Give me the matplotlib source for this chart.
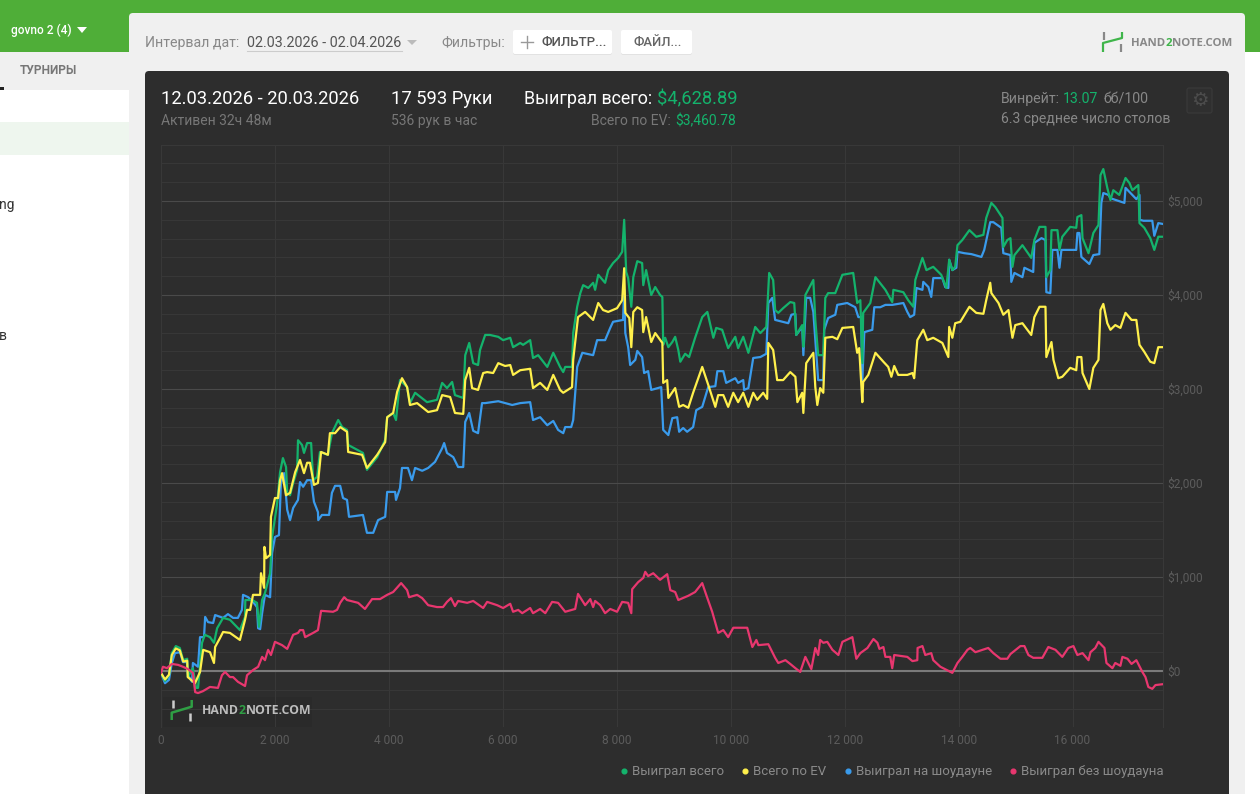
from matplotlib import pyplot as plt
from matplotlib.lines import Line2D
from matplotlib.patches import FancyBboxPatch, Rectangle
from matplotlib.ticker import FuncFormatter, MultipleLocator

# series: hands played and dollars won
total_hands = [0, 70, 140, 190, 260, 330, 390, 460, 470, 560, 615, 650, 720, 770, 860, 930, 985, 1090, 1210, 1385, 1475, 1480, 1600, 1685, 1720, 1775, 1825, 1915, 1950, 2035, 2090, 2140, 2195, 2215, 2265, 2320, 2390, 2405, 2475, 2510, 2565, 2635, 2670, 2740, 2790, 2930, 3000, 3110, 3180, 3265, 3285, 3545, 3615, 3795, 3935, 3970, 4075, 4125, 4195, 4320, 4370, 4460, 4670, 4845, 4935, 5020, 5110, 5160, 5305, 5340, 5410, 5480, 5565, 5600, 5690, 5775, 5920, 6005, 6130, 6180, 6305, 6355, 6480, 6530, 6620, 6780, 6885, 7005, 7060, 7095, 7215, 7235, 7305, 7360, 7410, 7500, 7585, 7620, 7675, 7795, 7850, 7935, 8025, 8095, 8130, 8165, 8200, 8255, 8290, 8360, 8445, 8465, 8515, 8605, 8675, 8760, 8800, 8815, 8850, 8905, 8975, 9025, 9080, 9115, 9200, 9270, 9375, 9500, 9590, 9695, 9745, 9850, 9955, 10080, 10130, 10220, 10310, 10430, 10520, 10625, 10675, 10745, 10780, 10835, 10920, 11045, 11115, 11150, 11255, 11275, 11310, 11450, 11485, 11535, 11625, 11660, 11710, 11835, 11960, 12150, 12220, 12275, 12310, 12325, 12450, 12540, 12715, 12835, 12855, 13030, 13115, 13205, 13240, 13365, 13435, 13555, 13695, 13785, 13835, 13890, 13940, 13980, 14065, 14190, 14310, 14435, 14485, 14575, 14645, 14770, 14785, 14855, 14910, 14945, 14980, 15120, 15275, 15330, 15420, 15525, 15540, 15610, 15630, 15735, 15770, 15820, 15960, 16065, 16085, 16155, 16175, 16280, 16365, 16455, 16490, 16540, 16610, 16665, 16715, 16820, 16930, 17000, 17050, 17155, 17175, 17260, 17365, 17435, 17505, 17593]
total_vals = [-20, -105, -45, 190, 265, 245, 115, 130, -65, 30, -180, -180, 300, 385, 360, 300, 455, 565, 545, 435, 575, 755, 755, 725, 470, 755, 830, 1040, 1425, 1765, 2115, 2265, 2170, 1895, 1870, 2000, 2140, 2455, 2405, 2320, 2425, 2425, 2030, 2065, 2330, 2300, 2530, 2670, 2595, 2565, 2405, 2320, 2140, 2275, 2460, 2700, 2745, 2670, 3095, 3020, 2850, 2960, 2860, 2885, 3065, 3010, 3075, 2935, 2905, 3360, 3490, 3275, 3255, 3415, 3575, 3575, 3555, 3520, 3545, 3445, 3490, 3470, 3520, 3330, 3360, 3235, 3385, 3235, 3180, 3235, 3235, 3595, 3875, 4020, 4105, 4075, 4130, 4055, 4215, 4130, 4265, 4340, 4395, 4460, 4800, 4245, 4180, 3875, 4190, 4360, 4340, 4105, 4265, 4000, 4085, 4000, 3980, 3470, 3545, 3445, 3500, 3555, 3415, 3290, 3375, 3340, 3545, 3765, 3820, 3545, 3650, 3630, 3435, 3555, 3435, 3555, 3385, 3660, 3595, 3660, 4235, 4160, 3840, 3810, 3860, 3925, 3915, 3575, 3680, 3450, 4000, 4160, 3735, 3360, 3360, 3970, 4020, 4020, 4215, 4235, 3915, 3945, 3275, 3810, 3915, 4190, 4055, 3925, 4055, 4030, 3945, 3875, 4160, 4395, 4265, 4300, 4215, 4075, 4375, 4265, 4300, 4530, 4585, 4690, 4620, 4640, 4820, 4980, 4935, 4820, 4510, 4585, 4605, 4300, 4425, 4530, 4395, 4585, 4725, 4725, 4190, 4265, 4690, 4690, 4480, 4620, 4725, 4715, 4830, 4850, 4605, 4445, 4660, 4745, 5275, 5340, 5140, 5010, 5115, 5065, 5245, 5190, 5115, 5170, 4765, 4715, 4605, 4480, 4620, 4620]

ev_hands = [0, 70, 140, 190, 260, 330, 390, 460, 470, 597, 685, 740, 860, 930, 950, 1035, 1090, 1210, 1385, 1475, 1510, 1565, 1615, 1740, 1755, 1810, 1815, 1845, 1915, 1930, 2000, 2055, 2090, 2125, 2195, 2265, 2355, 2440, 2510, 2565, 2615, 2685, 2755, 2810, 2930, 2965, 3055, 3145, 3265, 3285, 3530, 3615, 3795, 3935, 3970, 4075, 4145, 4230, 4320, 4370, 4495, 4690, 4845, 4935, 5075, 5160, 5305, 5340, 5410, 5460, 5565, 5655, 5725, 5830, 5920, 6040, 6130, 6180, 6305, 6480, 6530, 6655, 6780, 6885, 7005, 7060, 7215, 7235, 7320, 7445, 7585, 7675, 7760, 7850, 8005, 8095, 8130, 8150, 8220, 8255, 8290, 8360, 8445, 8465, 8515, 8605, 8675, 8800, 8815, 8885, 8905, 9025, 9095, 9165, 9255, 9340, 9500, 9605, 9730, 9780, 9870, 9955, 10045, 10130, 10220, 10310, 10395, 10465, 10570, 10640, 10660, 10745, 10815, 10920, 11045, 11135, 11170, 11255, 11275, 11325, 11450, 11485, 11520, 11570, 11625, 11660, 11785, 11870, 11960, 12150, 12220, 12255, 12310, 12325, 12415, 12540, 12680, 12765, 12820, 12870, 12940, 13100, 13190, 13220, 13275, 13380, 13450, 13555, 13715, 13820, 13835, 13890, 13940, 14030, 14190, 14310, 14435, 14485, 14555, 14575, 14700, 14785, 14875, 14945, 14995, 15120, 15275, 15330, 15420, 15525, 15540, 15630, 15665, 15750, 15820, 15960, 16065, 16085, 16155, 16175, 16295, 16365, 16455, 16490, 16540, 16610, 16665, 16750, 16840, 16930, 17035, 17120, 17175, 17260, 17365, 17435, 17505, 17593]
ev_vals = [-20, -90, -40, 170, 240, 220, 100, 110, -65, -130, -10, 225, 200, 85, 255, 350, 415, 405, 330, 545, 650, 650, 810, 810, 1040, 885, 1320, 1200, 1235, 1640, 1840, 1840, 2030, 2105, 1870, 1895, 2115, 2245, 2105, 2215, 2215, 1980, 2000, 2330, 2300, 2530, 2530, 2595, 2545, 2330, 2300, 2160, 2300, 2435, 2700, 2745, 2970, 3115, 3020, 2830, 2850, 2755, 2775, 2935, 2915, 2745, 2735, 3095, 3225, 3010, 2990, 3170, 3180, 3170, 3275, 3245, 3255, 3150, 3200, 3215, 3010, 3065, 2990, 3150, 2990, 2960, 3020, 3310, 3765, 3820, 3735, 3915, 3840, 3820, 3860, 3945, 4285, 3810, 3755, 3445, 3820, 3870, 3840, 3605, 3765, 3500, 3595, 3490, 3065, 3095, 2905, 3010, 2810, 2830, 2800, 2960, 3235, 3045, 2810, 2935, 2935, 2810, 2960, 2860, 2960, 2810, 2960, 2885, 2960, 2895, 3490, 3415, 3095, 3095, 3180, 3130, 2860, 2960, 2745, 3275, 3385, 3020, 2830, 3010, 2960, 3545, 3555, 3530, 3650, 3660, 3385, 3435, 2860, 3075, 3150, 3385, 3290, 3235, 3130, 3245, 3150, 3150, 3170, 3115, 3520, 3630, 3520, 3545, 3490, 3340, 3660, 3545, 3700, 3715, 3875, 3810, 3800, 3945, 4130, 4020, 3915, 3790, 3840, 3545, 3680, 3700, 3575, 3765, 3875, 3875, 3340, 3500, 3310, 3115, 3130, 3225, 3200, 3340, 3340, 3170, 3000, 3225, 3310, 3840, 3905, 3700, 3630, 3680, 3650, 3810, 3735, 3735, 3470, 3395, 3290, 3275, 3445, 3445]

showdown_hands = [0, 70, 140, 190, 245, 335, 385, 455, 475, 545, 560, 650, 685, 755, 775, 825, 915, 950, 1090, 1175, 1265, 1350, 1420, 1440, 1530, 1615, 1685, 1705, 1740, 1775, 1825, 1915, 1950, 2000, 2070, 2105, 2160, 2215, 2265, 2320, 2405, 2440, 2495, 2565, 2635, 2685, 2755, 2760, 2825, 2950, 3000, 3055, 3145, 3195, 3265, 3300, 3545, 3615, 3725, 3810, 3935, 3970, 4110, 4125, 4195, 4230, 4335, 4405, 4460, 4585, 4690, 4810, 4935, 4970, 5020, 5130, 5215, 5305, 5340, 5410, 5480, 5565, 5635, 5690, 5920, 6040, 6165, 6305, 6480, 6530, 6655, 6780, 6885, 6970, 7060, 7095, 7200, 7235, 7305, 7395, 7585, 7655, 7795, 7885, 7935, 8110, 8130, 8150, 8200, 8235, 8325, 8360, 8445, 8480, 8550, 8605, 8780, 8815, 8905, 8975, 9060, 9095, 9165, 9235, 9340, 9395, 9500, 9605, 9730, 9765, 9870, 9920, 10080, 10130, 10220, 10235, 10310, 10395, 10520, 10625, 10660, 10730, 10780, 11010, 11065, 11135, 11150, 11255, 11275, 11325, 11395, 11450, 11485, 11535, 11625, 11640, 11710, 11835, 11870, 12045, 12185, 12240, 12290, 12310, 12345, 12485, 12520, 12625, 12715, 12835, 13030, 13100, 13150, 13220, 13260, 13365, 13380, 13470, 13520, 13555, 13715, 13765, 13820, 13835, 13890, 13960, 13980, 14100, 14225, 14400, 14450, 14555, 14610, 14750, 14785, 14910, 14925, 14980, 15120, 15155, 15310, 15330, 15455, 15525, 15540, 15610, 15645, 15735, 15770, 15805, 16065, 16085, 16120, 16155, 16295, 16365, 16470, 16505, 16540, 16630, 16665, 16910, 16930, 17120, 17175, 17180, 17245, 17400, 17435, 17505, 17593]
showdown_vals = [-20, -130, -95, 85, 190, 200, 95, 95, -45, -115, 85, 45, 360, 360, 575, 520, 510, 595, 565, 605, 565, 565, 650, 810, 785, 735, 680, 455, 445, 615, 810, 785, 1255, 1425, 1445, 2000, 2105, 1715, 1605, 1735, 1820, 2010, 1960, 2030, 2030, 1800, 1690, 1605, 1660, 1660, 1895, 1970, 1970, 1840, 1820, 1640, 1660, 1470, 1470, 1605, 1640, 1905, 1905, 1820, 1945, 2160, 2160, 2030, 2160, 2130, 2160, 2225, 2370, 2425, 2320, 2275, 2170, 2170, 2650, 2745, 2555, 2530, 2850, 2850, 2870, 2850, 2830, 2850, 2860, 2670, 2700, 2615, 2660, 2565, 2530, 2595, 2595, 2670, 3235, 3385, 3360, 3520, 3520, 3650, 3715, 3735, 4055, 3595, 3445, 3255, 3310, 3405, 3340, 3170, 3190, 2990, 3020, 2565, 2510, 2690, 2700, 2545, 2585, 2545, 2595, 2775, 2810, 3020, 3030, 3190, 3190, 3065, 3115, 3065, 3095, 2990, 3010, 3330, 3340, 3375, 3915, 3970, 3735, 3700, 3790, 3800, 3575, 3660, 3360, 3970, 3970, 3820, 3520, 3095, 3095, 3630, 3755, 3790, 3895, 3915, 3870, 3765, 3765, 3095, 3605, 3630, 3870, 3870, 3895, 3895, 3915, 3820, 3765, 3790, 4075, 4055, 4140, 4085, 3980, 4180, 4180, 4085, 4075, 4375, 4265, 4290, 4460, 4445, 4435, 4405, 4480, 4775, 4775, 4715, 4445, 4425, 4140, 4235, 4190, 4290, 4245, 4555, 4605, 4585, 4030, 4020, 4480, 4480, 4290, 4480, 4480, 4660, 4660, 4405, 4330, 4425, 4435, 4980, 5085, 5065, 5030, 4980, 5140, 5020, 5065, 4800, 4790, 4790, 4630, 4765, 4755]

nonshowdown_hands = [0, 35, 105, 190, 300, 385, 475, 560, 600, 650, 735, 860, 1000, 1070, 1125, 1210, 1265, 1350, 1475, 1510, 1615, 1705, 1775, 1825, 1880, 1930, 2000, 2125, 2215, 2320, 2405, 2440, 2495, 2530, 2670, 2755, 2810, 3020, 3090, 3145, 3215, 3265, 3460, 3580, 3705, 3845, 3970, 4075, 4215, 4320, 4355, 4495, 4585, 4690, 4845, 4950, 5020, 5090, 5160, 5215, 5375, 5480, 5655, 5725, 5900, 6005, 6130, 6180, 6270, 6340, 6480, 6530, 6655, 6745, 6865, 6970, 7095, 7270, 7320, 7445, 7535, 7585, 7620, 7710, 7795, 7885, 8005, 8095, 8200, 8255, 8270, 8375, 8465, 8500, 8550, 8640, 8760, 8885, 8940, 9025, 9080, 9255, 9375, 9500, 9570, 9675, 9730, 9780, 9870, 9955, 10045, 10290, 10380, 10450, 10485, 10660, 10780, 10835, 10960, 11045, 11135, 11220, 11310, 11415, 11485, 11535, 11570, 11625, 11695, 11785, 11890, 11960, 12135, 12205, 12275, 12400, 12505, 12575, 12610, 12680, 12715, 12800, 12835, 12870, 13100, 13190, 13275, 13280, 13365, 13415, 13520, 13555, 13680, 13890, 13980, 14065, 14155, 14205, 14295, 14520, 14610, 14735, 14855, 14910, 15085, 15155, 15225, 15310, 15470, 15575, 15700, 15820, 15925, 16015, 16085, 16175, 16280, 16315, 16400, 16455, 16560, 16595, 16700, 16750, 16840, 16875, 16965, 17035, 17120, 17225, 17280, 17330, 17400, 17455, 17593]
nonshowdown_vals = [-20, 45, 30, 75, 65, 45, 20, -20, -225, -235, -215, -170, -180, -45, -10, -65, -65, -115, -160, -45, 10, 45, 150, 115, 225, 170, 310, 275, 235, 385, 405, 435, 435, 360, 405, 435, 640, 630, 650, 725, 785, 755, 725, 660, 765, 765, 810, 840, 935, 860, 785, 810, 775, 700, 680, 680, 735, 775, 690, 745, 725, 745, 670, 735, 700, 670, 715, 630, 650, 615, 670, 615, 660, 615, 735, 725, 630, 660, 820, 700, 765, 680, 745, 700, 615, 660, 630, 735, 725, 615, 870, 945, 990, 1055, 1010, 1040, 970, 1030, 860, 840, 755, 800, 840, 935, 810, 630, 510, 405, 435, 360, 460, 460, 255, 330, 275, 285, 140, 85, 115, 75, 30, -10, 150, 20, 245, 170, 330, 300, 310, 225, 170, 310, 360, 130, 190, 245, 340, 300, 235, 255, 150, 150, 30, 170, 150, 105, 115, 245, 265, 170, 190, 115, 45, -20, 85, 150, 225, 245, 200, 245, 190, 130, 130, 180, 265, 265, 170, 140, 140, 255, 225, 150, 245, 265, 170, 190, 115, 200, 245, 310, 245, 85, 30, 85, 55, 150, 130, 75, 115, -10, -65, -170, -190, -150, -140]

legend_labels = ['Выиграл всего', 'Всего по EV', 'Выиграл на шоудауне', 'Выиграл без шоудауна']
series_colors = ['#14b36c', '#fff04c', '#3a9bec', '#e8376f']

DARK = '#2d2d2d'
PAGE = '#f0f0f0'
GREEN_TOP = '#4fae38'

plt.rcParams['font.family'] = ['Roboto', 'DejaVu Sans']

fig = plt.figure(figsize=(12.6, 7.94), dpi=100, facecolor='white')

# page around the chart, in screen pixels
bg = fig.add_axes([0, 0, 1, 1])
bg.set_xlim(0, 1260)
bg.set_ylim(794, 0)
bg.axis('off')


def logo_text(target, x, y, size, color, accent):
    # three pieces so the 2 can be green, each placed after the one before it
    renderer = fig.canvas.get_renderer()
    for word, c in [('HAND', color), ('2', accent), ('NOTE.COM', color)]:
        t = target.text(x, y, word, color=c, fontsize=size, fontweight='bold', va='center',
                        family='Open Sans', transform=bg.transData, zorder=7)
        x += t.get_window_extent(renderer).width


bg.add_patch(Rectangle((0, 0), 1260, 52, color=GREEN_TOP, lw=0))
bg.add_patch(Rectangle((0, 52), 130, 38, color='#f0f0f0', lw=0))
bg.add_patch(Rectangle((0, 122), 130, 33, color='#eef6ee', lw=0))
bg.add_patch(Rectangle((0, 87), 4, 3, color='#222222', lw=0))
bg.add_patch(FancyBboxPatch((131, 15), 1112, 800, boxstyle='round,pad=2,rounding_size=4', fc=PAGE, ec='none'))
bg.add_patch(FancyBboxPatch((147, 73), 1080, 740, boxstyle='round,pad=2,rounding_size=4', fc=DARK, ec='none'))

bg.text(11, 30, 'govno 2 (4)', color='white', fontsize=8.6, fontweight='medium', va='center')
bg.fill([77, 87, 82], [27, 27, 33], color='white', lw=0)
bg.text(48, 70, 'ТУРНИРЫ', color='#777777', fontsize=8.6, fontweight='bold', va='center', ha='center')
bg.text(-1, 205, 'ng', color='#333333', fontsize=10, va='center')
bg.text(-1, 336, 'в', color='#333333', fontsize=10, va='center')

bg.text(145, 43, 'Интервал дат:', color='#888888', fontsize=10.2, va='center')
bg.text(247, 43, '02.03.2026 - 02.04.2026', color='#555555', fontsize=10.4, va='center')
bg.plot([247, 402], [51, 51], color='#cccccc', lw=0.8)
bg.fill([407, 417, 412], [40, 40, 45], color='#bbbbbb', lw=0)
bg.text(441, 43, 'Фильтры:', color='#888888', fontsize=10.1, va='center')
for left, width in [(513, 99), (621, 71)]:
    bg.add_patch(FancyBboxPatch((left, 31), width, 24, boxstyle='round,pad=0,rounding_size=2', fc='#e2e2e2', ec='none'))
    bg.add_patch(FancyBboxPatch((left, 30), width, 24, boxstyle='round,pad=0,rounding_size=2', fc='white', ec='none'))
bg.plot([521, 533], [42, 42], color='#999999', lw=1)
bg.plot([527, 527], [36, 48], color='#999999', lw=1)
bg.text(542, 43, 'ФИЛЬТР...', color='#555555', fontsize=9.5, fontweight='medium', va='center')
bg.text(633, 43, 'ФАЙЛ...', color='#666666', fontsize=9.4, fontweight='medium', va='center')

# top right logo
bg.plot([1103, 1103, 1122, 1122], [52, 43, 38, 32], color='#3fb54a', lw=1.6, solid_capstyle='butt')
bg.plot([1104, 1104], [32, 40], color='#888888', lw=1.6, solid_capstyle='butt')
bg.plot([1120.5, 1120.5], [44, 52], color='#888888', lw=1.6, solid_capstyle='butt')
logo_text(bg, 1131, 43, 8.2, '#888888', '#3fb54a')

# header of the dark card
bg.text(161, 99, '12.03.2026 - 20.03.2026', color='white', fontsize=13.2, va='center')
bg.text(161, 121, 'Активен 32ч 48м', color='#777777', fontsize=10, va='center')
bg.text(391, 99, '17 593 Руки', color='white', fontsize=13.2, va='center')
bg.text(391, 121, '536 рук в час', color='#777777', fontsize=10, va='center')
bg.text(524, 99, 'Выиграл всего:', color='white', fontsize=12.9, va='center')
bg.text(657, 99, '$4,628.89', color='#14b36c', fontsize=13.2, va='center')
bg.text(591, 121, 'Всего по EV:', color='#777777', fontsize=10, va='center')
bg.text(675, 121, '$3,460.78', color='#14b36c', fontsize=10, va='center')
bg.text(1001, 99, 'Винрейт:', color='#888888', fontsize=10.2, va='center')
bg.text(1063, 99, '13.07', color='#14b36c', fontsize=10.2, va='center')
bg.text(1103, 99, 'бб/100', color='#888888', fontsize=10.2, va='center')
bg.text(1001, 119, '6.3 среднее число столов', color='#888888', fontsize=10.1, va='center')
bg.add_patch(FancyBboxPatch((1187, 88), 25, 25, boxstyle='round,pad=0,rounding_size=2', fc='#2f2f2f', ec='#3a3a3a', lw=0.8))
bg.text(1199.5, 100.5, '⚙', color='#4c4c4c', fontsize=14, ha='center', va='center', family='DejaVu Sans')

# chart itself
ax = fig.add_axes([161 / 1260, 1 - 727 / 794, (1163.3 - 161) / 1260, (727 - 145) / 794])
ax.patch.set_alpha(0)
ax.set_xlim(0, 17593)
ax.set_ylim(-596, 5596)

ax.xaxis.set_major_locator(MultipleLocator(2000))
ax.xaxis.set_major_formatter(FuncFormatter(lambda v, _: f'{int(v):,}'.replace(',', ' ')))
ax.yaxis.set_major_locator(MultipleLocator(1000))
ax.yaxis.set_minor_locator(MultipleLocator(200))
ax.yaxis.set_major_formatter(FuncFormatter(lambda v, _: f'${int(v):,}'))
ax.yaxis.tick_right()
ax.tick_params(axis='both', which='both', length=0, labelcolor='#5c5c5c', labelsize=8.6)
ax.tick_params(axis='x', pad=5)
ax.tick_params(axis='y', pad=3)

ax.grid(axis='x', which='major', color='#383838', lw=0.8, zorder=0)
ax.grid(axis='y', which='minor', color='#373737', lw=0.8, zorder=0)
ax.grid(axis='y', which='major', color='#4a4a4a', lw=0.8, zorder=0)
ax.axhline(0, color='#7a7a7a', lw=1.5, zorder=1)
ax.set_axisbelow(True)
for name, spine in ax.spines.items():
    spine.set_color('#383838')
    spine.set_linewidth(0.8)
    spine.set_visible(name in ('left', 'top', 'right'))

ax.plot(showdown_hands, showdown_vals, color=series_colors[2], lw=1.6, zorder=3, solid_joinstyle='round')
ax.plot(total_hands, total_vals, color=series_colors[0], lw=1.6, zorder=4, solid_joinstyle='round')
ax.plot(ev_hands, ev_vals, color=series_colors[1], lw=1.6, zorder=5, solid_joinstyle='round')
ax.plot(nonshowdown_hands, nonshowdown_vals, color=series_colors[3], lw=1.6, zorder=6, solid_joinstyle='round')

handles = [Line2D([], [], ls='', marker='o', ms=3.4, color=c) for c in series_colors]
ax.legend(handles, legend_labels, loc='upper right', bbox_to_anchor=(1.0, -0.066), ncol=4, frameon=False,
          labelcolor='#8a8a8a', fontsize=9.5, handlelength=0.4, handletextpad=0.4, columnspacing=1.4,
          borderpad=0, borderaxespad=0)

# watermark inside the plot area
bg.add_patch(Rectangle((163, 697), 149, 30, fc='#2a2a2a', ec='none', zorder=2))
ax.plot([171.7, 171.7, 191.7, 191.7], [720, 712.7, 706.7, 700], color='#2f9e44', lw=1.8,
        solid_capstyle='butt', transform=bg.transData, zorder=7)
ax.plot([172.7, 172.7], [700, 708], color='#cccccc', lw=1.8, solid_capstyle='butt', transform=bg.transData, zorder=7)
ax.plot([190, 190], [713, 721], color='#cccccc', lw=1.8, solid_capstyle='butt', transform=bg.transData, zorder=7)
logo_text(ax, 201.7, 711, 8.8, '#bdbdbd', '#2f9e44')

fig.savefig('out.png', dpi=100, facecolor='white')
